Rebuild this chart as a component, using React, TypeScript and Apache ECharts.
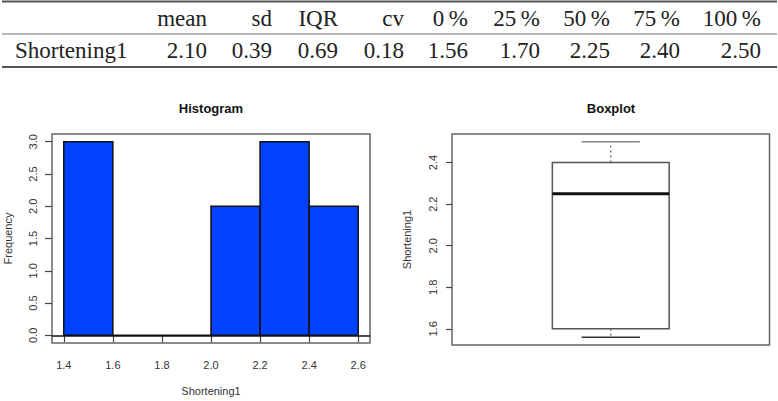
import React, { useEffect, useRef } from "react";
import * as echarts from "echarts";

// ---- Table data ----
const tableHeaders = ["mean", "sd", "IQR", "cv", "0\u2009%", "25\u2009%", "50\u2009%", "75\u2009%", "100\u2009%"];
const rowLabel = "Shortening1";
const rowValues = ["2.10", "0.39", "0.69", "0.18", "1.56", "1.70", "2.25", "2.40", "2.50"];

// ---- Histogram data ----
const binStarts = [1.4, 1.6, 1.8, 2.0, 2.2, 2.4];
const binEnds = [1.6, 1.8, 2.0, 2.2, 2.4, 2.6];
const binCounts = [3, 0, 0, 2, 3, 2];
const histXTicks = [1.4, 1.6, 1.8, 2.0, 2.2, 2.4, 2.6];
const histYTicks = [0, 0.5, 1.0, 1.5, 2.0, 2.5, 3.0];

// ---- Boxplot data (whisker low, hinge low, median, hinge high, whisker high) ----
const boxCategories = ["Shortening1"];
const boxStats = [1.56, 1.6, 2.25, 2.4, 2.5];
const boxYTicks = [1.6, 1.8, 2.0, 2.2, 2.4];

const colRight = [207, 272, 338, 404, 468, 540, 610, 680, 761];
const SERIF = '"Liberation Serif", "Times New Roman", serif';
const SANS = '"Liberation Sans", Arial, Helvetica, sans-serif';

export default function App() {
  const ref = useRef<HTMLDivElement>(null);
  useEffect(() => {
    if (!ref.current) return;
    const chart = echarts.init(ref.current, null, { renderer: "svg" });

    const graphics: any[] = [];
    // table rules
    graphics.push({ type: "line", shape: { x1: 2, y1: 1.5, x2: 777, y2: 1.5 }, style: { stroke: "#555", lineWidth: 2 } });
    graphics.push({ type: "line", shape: { x1: 2, y1: 34, x2: 777, y2: 34 }, style: { stroke: "#777", lineWidth: 1.2 } });
    graphics.push({ type: "line", shape: { x1: 2, y1: 67, x2: 777, y2: 67 }, style: { stroke: "#555", lineWidth: 2 } });
    tableHeaders.forEach((h, i) => {
      graphics.push({
        type: "text",
        x: colRight[i],
        y: 18,
        style: { text: h, fill: "#222", font: `23px ${SERIF}`, align: "right", verticalAlign: "middle" },
      });
    });
    graphics.push({
      type: "text",
      x: 15,
      y: 50,
      style: { text: rowLabel, fill: "#222", font: `23px ${SERIF}`, align: "left", verticalAlign: "middle" },
    });
    rowValues.forEach((v, i) => {
      graphics.push({
        type: "text",
        x: colRight[i],
        y: 50,
        style: { text: v, fill: "#222", font: `23px ${SERIF}`, align: "right", verticalAlign: "middle" },
      });
    });
    // titles
    graphics.push({
      type: "text",
      x: 211,
      y: 108,
      style: { text: "Histogram", fill: "#111", font: `bold 13px ${SANS}`, align: "center", verticalAlign: "middle" },
    });
    graphics.push({
      type: "text",
      x: 611,
      y: 108,
      style: { text: "Boxplot", fill: "#111", font: `bold 13px ${SANS}`, align: "center", verticalAlign: "middle" },
    });

    const axisText = { fontSize: 11, color: "#333", fontFamily: SANS };

    const option: any = {
      animation: false,
      backgroundColor: "#fff",
      graphic: graphics,
      grid: [
        { left: 52, top: 134, width: 318, height: 211, show: true, borderColor: "#666", borderWidth: 1.5, backgroundColor: "transparent" },
        { left: 452, top: 134, width: 317.5, height: 211, show: true, borderColor: "#666", borderWidth: 1.5, backgroundColor: "transparent" },
      ],
      xAxis: [
        {
          gridIndex: 0,
          type: "value",
          min: 1.352,
          max: 2.648,
          axisLine: { show: false },
          splitLine: { show: false },
          axisTick: { show: true, inside: false, length: 7, customValues: histXTicks, lineStyle: { color: "#444", width: 1.2 } },
          axisLabel: { customValues: histXTicks, formatter: (v: number) => v.toFixed(1), margin: 16, ...axisText },
          name: "Shortening1",
          nameLocation: "middle",
          nameGap: 42,
          nameTextStyle: { ...axisText },
        },
        {
          gridIndex: 1,
          type: "category",
          data: boxCategories,
          axisLine: { show: false },
          axisTick: { show: false },
          axisLabel: { show: false },
          splitLine: { show: false },
        },
      ],
      yAxis: [
        {
          gridIndex: 0,
          type: "value",
          min: -0.12,
          max: 3.12,
          axisLine: { show: false },
          splitLine: { show: false },
          axisTick: { show: true, inside: false, length: 7, customValues: histYTicks, lineStyle: { color: "#444", width: 1.2 } },
          axisLabel: { customValues: histYTicks, rotate: 90, formatter: (v: number) => v.toFixed(1), margin: 14, ...axisText },
          name: "Frequency",
          nameLocation: "middle",
          nameGap: 39,
          nameTextStyle: { ...axisText },
        },
        {
          gridIndex: 1,
          type: "value",
          min: 1.5224,
          max: 2.5376,
          axisLine: { show: false },
          splitLine: { show: false },
          axisTick: { show: true, inside: false, length: 6, customValues: boxYTicks, lineStyle: { color: "#444", width: 1.2 } },
          axisLabel: { customValues: boxYTicks, rotate: 90, formatter: (v: number) => v.toFixed(1), margin: 14, ...axisText },
          name: "Shortening1",
          nameLocation: "middle",
          nameGap: 40,
          nameTextStyle: { ...axisText },
        },
      ],
      series: [
        {
          type: "custom",
          xAxisIndex: 0,
          yAxisIndex: 0,
          data: binStarts.map((s, i) => [s, binEnds[i], binCounts[i]]),
          encode: { x: [0, 1], y: 2 },
          renderItem: (params: any, api: any) => {
            const p0 = api.coord([api.value(0), api.value(2)]);
            const p1 = api.coord([api.value(1), 0]);
            return {
              type: "rect",
              shape: { x: p0[0], y: p0[1], width: p1[0] - p0[0], height: p1[1] - p0[1] },
              style: { fill: "#0042ff", stroke: "#111", lineWidth: 1.5 },
            };
          },
          markLine: {
            silent: true,
            symbol: "none",
            label: { show: false },
            lineStyle: { color: "#111", type: "solid", width: 1.5 },
            data: [{ yAxis: 0 }],
          },
        },
        {
          type: "custom",
          xAxisIndex: 1,
          yAxisIndex: 1,
          data: boxCategories.map((c, i) => [i, ...boxStats]),
          encode: { x: 0, y: [1, 2, 3, 4, 5] },
          renderItem: (params: any, api: any) => {
            const idx = api.value(0);
            const lo = api.coord([idx, api.value(1)]);
            const q1 = api.coord([idx, api.value(2)]);
            const med = api.coord([idx, api.value(3)]);
            const q3 = api.coord([idx, api.value(4)]);
            const hi = api.coord([idx, api.value(5)]);
            const band = api.size([1, 0])[0];
            const cx = lo[0];
            const bh = band * 0.184;
            const ch = band * 0.092;
            return {
              type: "group",
              children: [
                { type: "line", shape: { x1: cx, y1: q3[1], x2: cx, y2: hi[1] }, style: { stroke: "#555", lineWidth: 1.2, lineDash: [2, 3] } },
                { type: "line", shape: { x1: cx, y1: q1[1], x2: cx, y2: lo[1] }, style: { stroke: "#555", lineWidth: 1.2, lineDash: [2, 3] } },
                { type: "line", shape: { x1: cx - ch, y1: hi[1], x2: cx + ch, y2: hi[1] }, style: { stroke: "#888", lineWidth: 1.5 } },
                { type: "line", shape: { x1: cx - ch, y1: lo[1], x2: cx + ch, y2: lo[1] }, style: { stroke: "#333", lineWidth: 1.5 } },
                { type: "rect", shape: { x: cx - bh, y: q3[1], width: bh * 2, height: q1[1] - q3[1] }, style: { fill: "none", stroke: "#555", lineWidth: 1.5 } },
                { type: "line", shape: { x1: cx - bh, y1: med[1], x2: cx + bh, y2: med[1] }, style: { stroke: "#111", lineWidth: 3 } },
              ],
            };
          },
        },
      ],
    };
    chart.setOption(option);
    return () => chart.dispose();
  }, []);

  return <div ref={ref} style={{ position: "absolute", left: 0, top: 0, width: 778, height: 401 }} />;
}
